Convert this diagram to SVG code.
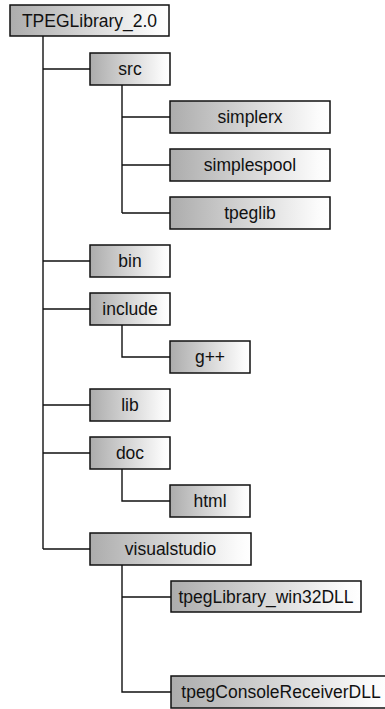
<svg xmlns="http://www.w3.org/2000/svg" width="385" height="709" viewBox="0 0 385 709">
  <defs>
    <linearGradient id="boxFill" x1="0" y1="0" x2="1" y2="0">
      <stop offset="0" stop-color="#acacac"/>
      <stop offset="0.92" stop-color="#fbfbfb"/>
      <stop offset="1" stop-color="#ffffff"/>
    </linearGradient>
    <style>
      .box { fill: url(#boxFill); stroke: #111; stroke-width: 1.5; }
      .lbl { font-family: "Liberation Sans", Arial, Helvetica, sans-serif; font-size: 17.5px; fill: #111; text-anchor: middle; }
      .wire { fill: none; stroke: #111; stroke-width: 1.4; }
    </style>
  </defs>
  <rect width="385" height="709" fill="#fff"/>

  <!-- folder tree connectors -->
  <g id="connectors" class="wire">
    <path d="M43 36 V549"/>
    <path d="M43 69 H90 M43 261 H90 M43 309 H90 M43 405 H90 M43 453 H90 M43 549 H90"/>
    <path d="M122 85 V213 M122 117 H170 M122 165 H170 M122 213 H170"/>
    <path d="M122 325 V357 H170"/>
    <path d="M122 469 V501 H170"/>
    <path d="M122 565 V692 H171 M122 597 H171"/>
  </g>

  <g id="root"><rect class="box" x="10" y="5" width="159" height="31"/><text class="lbl" x="89.5" y="26.5">TPEGLibrary_2.0</text></g>
  <g id="src"><rect class="box" x="90" y="53" width="80" height="32"/><text class="lbl" x="130" y="75">src</text></g>
  <g id="simplerx"><rect class="box" x="170" y="101" width="160" height="32"/><text class="lbl" x="250" y="123">simplerx</text></g>
  <g id="simplespool"><rect class="box" x="170" y="149" width="160" height="32"/><text class="lbl" x="250" y="171">simplespool</text></g>
  <g id="tpeglib"><rect class="box" x="170" y="197" width="160" height="32"/><text class="lbl" x="250" y="219">tpeglib</text></g>
  <g id="bin"><rect class="box" x="90" y="245" width="80" height="32"/><text class="lbl" x="130" y="267">bin</text></g>
  <g id="include"><rect class="box" x="90" y="293" width="80" height="32"/><text class="lbl" x="130" y="315">include</text></g>
  <g id="gpp"><rect class="box" x="170" y="341" width="80" height="32"/><text class="lbl" x="210" y="363">g++</text></g>
  <g id="lib"><rect class="box" x="90" y="389" width="80" height="32"/><text class="lbl" x="130" y="411">lib</text></g>
  <g id="doc"><rect class="box" x="90" y="437" width="80" height="32"/><text class="lbl" x="130" y="459">doc</text></g>
  <g id="html"><rect class="box" x="170" y="485" width="80" height="32"/><text class="lbl" x="210" y="507">html</text></g>
  <g id="visualstudio"><rect class="box" x="90" y="533" width="161" height="32"/><text class="lbl" x="170.5" y="555">visualstudio</text></g>
  <g id="tpegLibrary_win32DLL"><rect class="box" x="171" y="581" width="190" height="31"/><text class="lbl" x="266" y="603">tpegLibrary_win32DLL</text></g>
  <g id="tpegConsoleReceiverDLL"><rect class="box" x="171" y="676" width="220" height="32"/><text class="lbl" x="281" y="698">tpegConsoleReceiverDLL</text></g>
</svg>
